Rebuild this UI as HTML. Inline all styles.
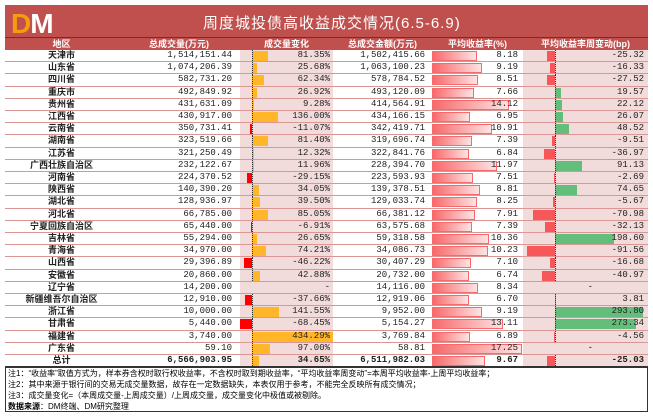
<!DOCTYPE html>
<html><head><meta charset="utf-8">
<style>
*{margin:0;padding:0;box-sizing:border-box}
body{width:653px;height:417px;background:#fff;position:relative;overflow:hidden;font-family:"Liberation Mono","Noto Sans CJK SC",monospace;}
.t{position:absolute;left:5px;top:5px;width:643px;height:33px;background:#c0504d;border-bottom:1px solid #7a2a28}
.t .ti{position:absolute;left:198px;top:7px;color:#fff;font:15px "Liberation Sans","Noto Sans CJK SC",sans-serif;letter-spacing:1px}
.logo{position:absolute;left:6px;top:3px;font:bold 28px "Liberation Sans",sans-serif;color:#f39c12;letter-spacing:-1px}
.hd{position:absolute;left:5px;top:38px;width:643px;height:12px;background:#c0504d;color:#fff;font:bold 9px "Liberation Sans","Noto Sans CJK SC",sans-serif}
.hd span{position:absolute;top:0;line-height:12px;text-align:center}
.r{position:absolute;left:5px;width:643px;height:12.2px;border-bottom:1px solid #d99694;font-size:9px;line-height:11.5px;color:#222}
.r div{position:absolute;top:0;height:11.2px}
.pk1{left:235px;width:93px;background:#f2dcdb}
.pk2{left:518px;width:125px;background:#f2dcdb}
.nm{left:0;width:113px;text-align:center;font:bold 9px "Liberation Sans","Noto Sans CJK SC",sans-serif;line-height:11.5px}
.v{left:113px;width:114px;text-align:right}
.ct{left:235px;width:90px;text-align:right}
.a{left:328px;width:92px;text-align:right}
.yt{left:427px;width:86px;text-align:right}
.dt{left:518px;width:121px;text-align:right}
.ax1{left:247px;width:0;border-left:1px dotted #333}
.ax2{left:550px;width:0;border-left:1px dotted #333}
.cy{background:#ffb628;top:1px!important;height:10px!important}
.cr{background:#ff0000;top:1px!important;height:10px!important}
.yb{left:427px;top:1px!important;height:10px!important;background:linear-gradient(90deg,#f8696b,#fde3e3);border:1px solid #f8696b}
.dg{background:#63be7b;top:1px!important;height:10px!important}
.dr{background:#f8575a;top:1px!important;height:10px!important}
.nt{position:absolute;left:5px;top:367px;width:643px;height:45px;border:1px solid #333;font:8px "Liberation Sans","Noto Sans CJK SC",sans-serif;line-height:11px;padding-left:2px}
</style></head><body>
<div class="t"><div class="logo">D<span style="color:#fff">M</span></div><div class="ti">周度城投债高收益成交情况(6.5-6.9)</div></div>
<div class="hd"><span style="left:0;width:113px">地区</span><span style="left:113px;width:122px">总成交量(万元)</span><span style="left:235px;width:93px">成交量变化</span><span style="left:328px;width:99px">总成交金额(万元)</span><span style="left:427px;width:91px">平均收益率(%)</span><span style="left:518px;width:125px">平均收益率周变动(bp)</span></div>

<div class="r" style="top:50px"><div class="pk1"></div><div class="pk2"></div><div class="nm">天津市</div><div class="v">1,514,151.44</div><div class="cy" style="left:247px;width:15.5px"></div><div class="ax1"></div><div class="ct">81.35%</div><div class="a">1,502,415.66</div><div class="yb" style="width:44.6px"></div><div class="yt">8.18</div><div class="dr" style="left:542.2px;width:7.8px"></div><div class="ax2"></div><div class="dt">-25.32</div></div>
<div class="r" style="top:62.2px"><div class="pk1"></div><div class="pk2"></div><div class="nm">山东省</div><div class="v">1,074,206.39</div><div class="cy" style="left:247px;width:4.9px"></div><div class="ax1"></div><div class="ct">25.68%</div><div class="a">1,063,100.23</div><div class="yb" style="width:50.1px"></div><div class="yt">9.19</div><div class="dr" style="left:544.9px;width:5.1px"></div><div class="ax2"></div><div class="dt">-16.33</div></div>
<div class="r" style="top:74.4px"><div class="pk1"></div><div class="pk2"></div><div class="nm">四川省</div><div class="v">582,731.20</div><div class="cy" style="left:247px;width:11.8px"></div><div class="ax1"></div><div class="ct">62.34%</div><div class="a">578,784.52</div><div class="yb" style="width:46.4px"></div><div class="yt">8.51</div><div class="dr" style="left:541.5px;width:8.5px"></div><div class="ax2"></div><div class="dt">-27.52</div></div>
<div class="r" style="top:86.6px"><div class="pk1"></div><div class="pk2"></div><div class="nm">重庆市</div><div class="v">492,849.92</div><div class="cy" style="left:247px;width:5.1px"></div><div class="ax1"></div><div class="ct">26.92%</div><div class="a">493,120.09</div><div class="yb" style="width:41.7px"></div><div class="yt">7.66</div><div class="dg" style="left:550px;width:5.8px"></div><div class="ax2"></div><div class="dt">19.57</div></div>
<div class="r" style="top:98.8px"><div class="pk1"></div><div class="pk2"></div><div class="nm">贵州省</div><div class="v">431,631.09</div><div class="cy" style="left:247px;width:1.8px"></div><div class="ax1"></div><div class="ct">9.28%</div><div class="a">414,564.91</div><div class="yb" style="width:77px"></div><div class="yt">14.12</div><div class="dg" style="left:550px;width:6.5px"></div><div class="ax2"></div><div class="dt">22.12</div></div>
<div class="r" style="top:111px"><div class="pk1"></div><div class="pk2"></div><div class="nm">江西省</div><div class="v">430,917.00</div><div class="cy" style="left:247px;width:25.8px"></div><div class="ax1"></div><div class="ct">136.00%</div><div class="a">434,166.15</div><div class="yb" style="width:37.9px"></div><div class="yt">6.95</div><div class="dg" style="left:550px;width:7.7px"></div><div class="ax2"></div><div class="dt">26.07</div></div>
<div class="r" style="top:123.2px"><div class="pk1"></div><div class="pk2"></div><div class="nm">云南省</div><div class="v">350,731.41</div><div class="cr" style="left:245px;width:2px"></div><div class="ax1"></div><div class="ct">-11.07%</div><div class="a">342,419.71</div><div class="yb" style="width:59.5px"></div><div class="yt">10.91</div><div class="dg" style="left:550px;width:14.4px"></div><div class="ax2"></div><div class="dt">48.52</div></div>
<div class="r" style="top:135.4px"><div class="pk1"></div><div class="pk2"></div><div class="nm">湖南省</div><div class="v">323,519.66</div><div class="cy" style="left:247px;width:15.5px"></div><div class="ax1"></div><div class="ct">81.40%</div><div class="a">319,696.74</div><div class="yb" style="width:40.3px"></div><div class="yt">7.39</div><div class="dr" style="left:547.1px;width:2.9px"></div><div class="ax2"></div><div class="dt">-9.51</div></div>
<div class="r" style="top:147.6px"><div class="pk1"></div><div class="pk2"></div><div class="nm">江苏省</div><div class="v">321,250.49</div><div class="cy" style="left:247px;width:2.3px"></div><div class="ax1"></div><div class="ct">12.32%</div><div class="a">322,841.76</div><div class="yb" style="width:37.3px"></div><div class="yt">6.84</div><div class="dr" style="left:538.5px;width:11.5px"></div><div class="ax2"></div><div class="dt">-36.97</div></div>
<div class="r" style="top:159.8px"><div class="pk1"></div><div class="pk2"></div><div class="nm">广西壮族自治区</div><div class="v">232,122.67</div><div class="cy" style="left:247px;width:2.3px"></div><div class="ax1"></div><div class="ct">11.96%</div><div class="a">228,394.70</div><div class="yb" style="width:65.2px"></div><div class="yt">11.97</div><div class="dg" style="left:550px;width:27px"></div><div class="ax2"></div><div class="dt">91.13</div></div>
<div class="r" style="top:172px"><div class="pk1"></div><div class="pk2"></div><div class="nm">河南省</div><div class="v">224,370.52</div><div class="cr" style="left:241.8px;width:5.2px"></div><div class="ax1"></div><div class="ct">-29.15%</div><div class="a">223,593.93</div><div class="yb" style="width:40.9px"></div><div class="yt">7.51</div><div class="dr" style="left:549.2px;width:0.8px"></div><div class="ax2"></div><div class="dt">-2.69</div></div>
<div class="r" style="top:184.2px"><div class="pk1"></div><div class="pk2"></div><div class="nm">陕西省</div><div class="v">140,390.20</div><div class="cy" style="left:247px;width:6.5px"></div><div class="ax1"></div><div class="ct">34.05%</div><div class="a">139,378.51</div><div class="yb" style="width:48px"></div><div class="yt">8.81</div><div class="dg" style="left:550px;width:22.1px"></div><div class="ax2"></div><div class="dt">74.65</div></div>
<div class="r" style="top:196.4px"><div class="pk1"></div><div class="pk2"></div><div class="nm">湖北省</div><div class="v">128,936.97</div><div class="cy" style="left:247px;width:7.5px"></div><div class="ax1"></div><div class="ct">39.50%</div><div class="a">129,033.74</div><div class="yb" style="width:45px"></div><div class="yt">8.25</div><div class="dr" style="left:548.2px;width:1.8px"></div><div class="ax2"></div><div class="dt">-5.67</div></div>
<div class="r" style="top:208.6px"><div class="pk1"></div><div class="pk2"></div><div class="nm">河北省</div><div class="v">66,785.00</div><div class="cy" style="left:247px;width:16.2px"></div><div class="ax1"></div><div class="ct">85.05%</div><div class="a">66,381.12</div><div class="yb" style="width:43.1px"></div><div class="yt">7.91</div><div class="dr" style="left:528px;width:22px"></div><div class="ax2"></div><div class="dt">-70.98</div></div>
<div class="r" style="top:220.8px"><div class="pk1"></div><div class="pk2"></div><div class="nm">宁夏回族自治区</div><div class="v">65,440.00</div><div class="cr" style="left:245.8px;width:1.2px"></div><div class="ax1"></div><div class="ct">-6.91%</div><div class="a">63,575.68</div><div class="yb" style="width:40.3px"></div><div class="yt">7.39</div><div class="dr" style="left:540px;width:10px"></div><div class="ax2"></div><div class="dt">-32.13</div></div>
<div class="r" style="top:233px"><div class="pk1"></div><div class="pk2"></div><div class="nm">吉林省</div><div class="v">55,294.00</div><div class="cy" style="left:247px;width:5.1px"></div><div class="ax1"></div><div class="ct">26.65%</div><div class="a">59,318.58</div><div class="yb" style="width:56.5px"></div><div class="yt">10.36</div><div class="dg" style="left:550px;width:58.8px"></div><div class="ax2"></div><div class="dt">198.60</div></div>
<div class="r" style="top:245.2px"><div class="pk1"></div><div class="pk2"></div><div class="nm">青海省</div><div class="v">34,970.00</div><div class="cy" style="left:247px;width:14.1px"></div><div class="ax1"></div><div class="ct">74.21%</div><div class="a">34,086.73</div><div class="yb" style="width:55.8px"></div><div class="yt">10.23</div><div class="dr" style="left:521.6px;width:28.4px"></div><div class="ax2"></div><div class="dt">-91.56</div></div>
<div class="r" style="top:257.4px"><div class="pk1"></div><div class="pk2"></div><div class="nm">山西省</div><div class="v">29,396.89</div><div class="cr" style="left:238.7px;width:8.3px"></div><div class="ax1"></div><div class="ct">-46.22%</div><div class="a">30,407.29</div><div class="yb" style="width:38.7px"></div><div class="yt">7.10</div><div class="dr" style="left:544.8px;width:5.2px"></div><div class="ax2"></div><div class="dt">-16.68</div></div>
<div class="r" style="top:269.6px"><div class="pk1"></div><div class="pk2"></div><div class="nm">安徽省</div><div class="v">20,860.00</div><div class="cy" style="left:247px;width:8.1px"></div><div class="ax1"></div><div class="ct">42.88%</div><div class="a">20,732.00</div><div class="yb" style="width:36.7px"></div><div class="yt">6.74</div><div class="dr" style="left:537.3px;width:12.7px"></div><div class="ax2"></div><div class="dt">-40.97</div></div>
<div class="r" style="top:281.8px"><div class="pk1"></div><div class="pk2"></div><div class="nm">辽宁省</div><div class="v">14,200.00</div><div class="ct">-</div><div class="a">14,116.00</div><div class="yb" style="width:45.5px"></div><div class="yt">8.34</div><div class="dt" style="width:70px">-</div></div>
<div class="r" style="top:294px"><div class="pk1"></div><div class="pk2"></div><div class="nm">新疆维吾尔自治区</div><div class="v">12,910.00</div><div class="cr" style="left:240.2px;width:6.8px"></div><div class="ax1"></div><div class="ct">-37.66%</div><div class="a">12,919.06</div><div class="yb" style="width:36.5px"></div><div class="yt">6.70</div><div class="dg" style="left:550px;width:1.1px"></div><div class="ax2"></div><div class="dt">3.81</div></div>
<div class="r" style="top:306.2px"><div class="pk1"></div><div class="pk2"></div><div class="nm">浙江省</div><div class="v">10,000.00</div><div class="cy" style="left:247px;width:26.9px"></div><div class="ax1"></div><div class="ct">141.55%</div><div class="a">9,952.00</div><div class="yb" style="width:50.1px"></div><div class="yt">9.19</div><div class="dg" style="left:550px;width:88px"></div><div class="ax2"></div><div class="dt">293.80</div></div>
<div class="r" style="top:318.4px"><div class="pk1"></div><div class="pk2"></div><div class="nm">甘肃省</div><div class="v">5,440.00</div><div class="cr" style="left:235px;width:12px"></div><div class="ax1"></div><div class="ct">-68.45%</div><div class="a">5,154.27</div><div class="yb" style="width:71.4px"></div><div class="yt">13.11</div><div class="dg" style="left:550px;width:81px"></div><div class="ax2"></div><div class="dt">273.34</div></div>
<div class="r" style="top:330.6px"><div class="pk1"></div><div class="pk2"></div><div class="nm">福建省</div><div class="v">3,740.00</div><div class="cy" style="left:247px;width:81px"></div><div class="ax1"></div><div class="ct">434.29%</div><div class="a">3,769.84</div><div class="yb" style="width:37.6px"></div><div class="yt">6.89</div><div class="dr" style="left:548.6px;width:1.4px"></div><div class="ax2"></div><div class="dt">-4.56</div></div>
<div class="r" style="top:342.8px"><div class="pk1"></div><div class="pk2"></div><div class="nm">广东省</div><div class="v">59.10</div><div class="cy" style="left:247px;width:18.4px"></div><div class="ax1"></div><div class="ct">97.00%</div><div class="a">58.81</div><div class="yb" style="width:90px"></div><div class="yt">17.25</div><div class="dt" style="width:70px">-</div></div>
<div class="r" style="top:355px;border-bottom:1px solid #333;font-weight:bold"><div class="pk1"></div><div class="pk2"></div><div class="nm">总计</div><div class="v">6,566,903.95</div><div class="cy" style="left:247px;width:6.6px"></div><div class="ax1"></div><div class="ct">34.65%</div><div class="a">6,511,982.03</div><div class="yb" style="width:52.7px"></div><div class="yt">9.67</div><div class="dr" style="left:542.2px;width:7.8px"></div><div class="ax2"></div><div class="dt">-25.03</div></div>

<div class="nt">注1：“收益率”取值方式为，样本券含权时取行权收益率，不含权时取到期收益率，“平均收益率周变动”=本周平均收益率-上周平均收益率；<br>注2：其中来源于银行间的交易无成交量数据，故存在一定数据缺失，本表仅用于参考，不能完全反映所有成交情况；<br>注3：成交量变化=（本周成交量-上周成交量）/上周成交量，成交量变化中极值或被剔除。<br><b>数据来源</b>：DM终端、DM研究整理</div>
</body></html>
